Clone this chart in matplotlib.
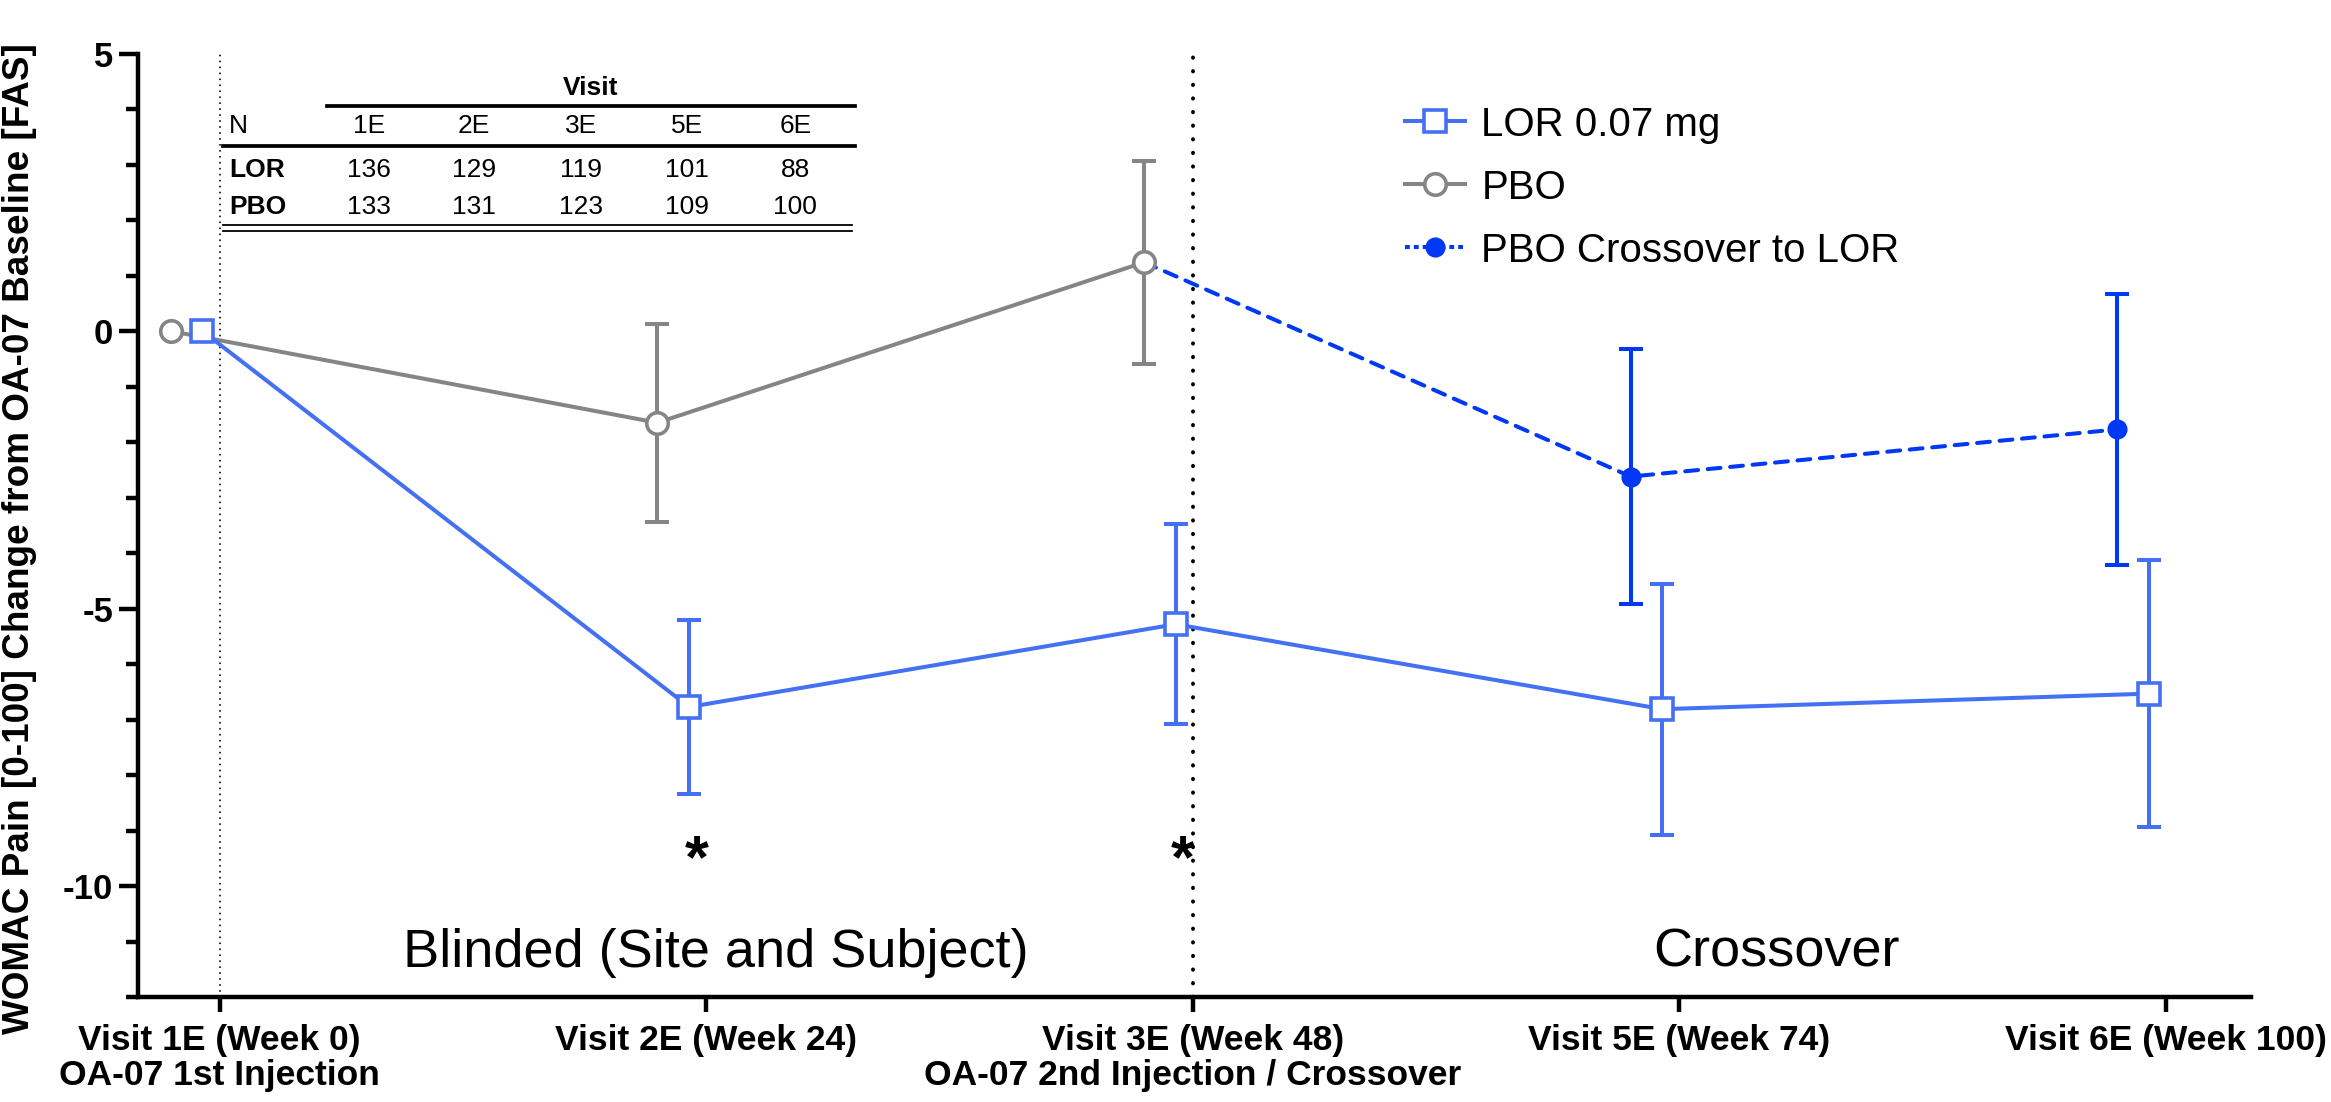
import matplotlib
matplotlib.use('Agg')
import matplotlib.pyplot as plt
from matplotlib.lines import Line2D
from matplotlib.ticker import MultipleLocator
import numpy as np

plt.rcParams['font.family'] = ['Liberation Sans', 'DejaVu Sans']

# data
visit_labels = ['Visit 1E (Week 0)\nOA-07 1st Injection',
                'Visit 2E (Week 24)',
                'Visit 3E (Week 48)\nOA-07 2nd Injection / Crossover',
                'Visit 5E (Week 74)',
                'Visit 6E (Week 100)']
visit_codes = ['1E', '2E', '3E', '5E', '6E']

lor_mean = [0.0, -6.77, -5.28, -6.81, -6.53]
lor_err = [np.nan, 1.57, 1.80, 2.26, 2.41]
pbo_mean = [0.0, -1.65, 1.24]
pbo_err = [np.nan, 1.78, 1.83]
cross_mean = [-2.62, -1.77]
cross_err = [2.29, 2.44]
signif_visits = [1, 2]

lor_n = [136, 129, 119, 101, 88]
pbo_n = [133, 131, 123, 109, 100]

lor_c = '#4470F4'
pbo_c = '#858585'
cross_c = '#0038F5'

W, H = 1568, 741  # layout reference grid


def fp(x, y):
    return x / W, 1 - y / H


fig = plt.figure(figsize=(23.31, 11.02), dpi=100)
ax = fig.add_axes([93 / W, 1 - 670.6 / H, (1514 - 93) / W, (670.6 - 36) / H])

x = np.arange(len(visit_labels))
lor_x = x - 0.035
pbo_x = x[:len(pbo_mean)] - 0.1
cross_x = x[len(pbo_mean):] - 0.1

# vertical phase lines
ax.axvline(0, color='black', lw=1.3, ls=(0, (0.1, 3.2)), dash_capstyle='round', zorder=1)
ax.axvline(2, color='black', lw=2.8, ls=(0, (0.1, 3.4)), dash_capstyle='round', zorder=1)

lw = 2.9
# PBO
ax.errorbar(pbo_x, pbo_mean, yerr=pbo_err, fmt='none', ecolor=pbo_c, elinewidth=lw,
            capsize=8.3, capthick=lw, zorder=2)
ax.plot(pbo_x, pbo_mean, color=pbo_c, lw=lw, marker='o', ms=15.5, mfc='white',
        mec=pbo_c, mew=2.6, zorder=4)

# crossover
cx_line = np.concatenate([[pbo_x[-1]], cross_x])
cy_line = np.concatenate([[pbo_mean[-1]], cross_mean])
ax.plot(cx_line, cy_line, color=cross_c, lw=lw, ls=(0, (3.2, 2.4)),
        dash_capstyle='round', zorder=3)
ax.errorbar(cross_x, cross_mean, yerr=cross_err, fmt='none', ecolor=cross_c,
            elinewidth=lw, capsize=8.3, capthick=lw, zorder=2)
ax.plot(cross_x, cross_mean, ls='none', marker='o', ms=13.5, color=cross_c, zorder=5)

# LOR
ax.errorbar(lor_x, lor_mean, yerr=lor_err, fmt='none', ecolor=lor_c, elinewidth=lw,
            capsize=8.3, capthick=lw, zorder=2)
ax.plot(lor_x, lor_mean, color=lor_c, lw=lw, marker='s', ms=15.5, mfc='white',
        mec=lor_c, mew=2.6, zorder=6)

for v in signif_visits:
    ax.text(v - 0.02, -9.55, '*', ha='center', va='center', fontsize=44,
            fontweight='bold')

ax.text(1.02, -11.2, 'Blinded (Site and Subject)', ha='center', va='center', fontsize=39)
ax.text(3.2, -11.2, 'Crossover', ha='center', va='center', fontsize=39)

# axes styling
ax.set_xlim(-0.167, 4.174)
ax.set_ylim(-12, 5)
ax.set_xticks(x)
ax.set_xticklabels(visit_labels, fontsize=25.5, fontweight='bold', linespacing=1.1)
ax.set_yticks([-10, -5, 0, 5])
ax.set_yticklabels(['-10', '-5', '0', '5'], fontsize=25, fontweight='bold')
ax.yaxis.set_minor_locator(MultipleLocator(1))
ax.tick_params(axis='y', which='major', length=14, width=3.2, pad=4)
ax.tick_params(axis='y', which='minor', length=8.5, width=3.2)
ax.tick_params(axis='x', which='major', length=11, width=3.2, pad=8)
for s in ['top', 'right']:
    ax.spines[s].set_visible(False)
for s in ['left', 'bottom']:
    ax.spines[s].set_linewidth(3.2)

fig.text(*fp(13, 362), 'WOMAC Pain [0-100] Change from OA-07 Baseline [FAS]',
         rotation=90, ha='center', va='center', fontsize=26.6, fontweight='bold')

# legend
handles = [
    Line2D([], [], color=lor_c, lw=lw, marker='s', ms=15.5, mfc='white', mec=lor_c, mew=2.6),
    Line2D([], [], color=pbo_c, lw=lw, marker='o', ms=15.5, mfc='white', mec=pbo_c, mew=2.6),
    Line2D([], [], color=cross_c, lw=lw, ls=(0, (1.2, 1.0)), marker='o', ms=13.5),
]
labels = ['LOR 0.07 mg', 'PBO', 'PBO Crossover to LOR']
fig.legend(handles, labels, loc='upper left', bbox_to_anchor=fp(945, 71),
           frameon=False, fontsize=29, handlelength=1.5, handletextpad=0.4,
           labelspacing=0.62, borderpad=0, borderaxespad=0)

# N table
col_x = [248, 319, 391, 462, 535]
fs_t = 19
tfam = ['Liberation Sans Narrow', 'Liberation Sans']
fig.text(*fp(397, 59), 'Visit', ha='center', va='center', fontsize=fs_t,
         fontweight='bold', family=tfam)
fig.text(*fp(154, 85), 'N', ha='left', va='center', fontsize=fs_t, family=tfam)
for cx, code, ln, pn in zip(col_x, visit_codes, lor_n, pbo_n):
    fig.text(*fp(cx, 85), code, ha='center', va='center', fontsize=fs_t, family=tfam)
    fig.text(*fp(cx, 114), str(ln), ha='center', va='center', fontsize=fs_t, family=tfam)
    fig.text(*fp(cx, 139), str(pn), ha='center', va='center', fontsize=fs_t, family=tfam)
fig.text(*fp(154, 114), 'LOR', ha='left', va='center', fontsize=fs_t,
         fontweight='bold', family=tfam)
fig.text(*fp(154, 139), 'PBO', ha='left', va='center', fontsize=fs_t,
         fontweight='bold', family=tfam)


def hline(x0, x1, y, w):
    a, b = fp(x0, y)
    c, d = fp(x1, y)
    fig.add_artist(Line2D([a, c], [b, d], color='black', lw=w, transform=fig.transFigure))


hline(220, 575, 71, 2.7)
hline(150, 575, 98, 2.7)
hline(150, 573, 151.5, 1.3)
hline(150, 573, 155, 1.3)

fig.savefig('out.png', dpi=100)
